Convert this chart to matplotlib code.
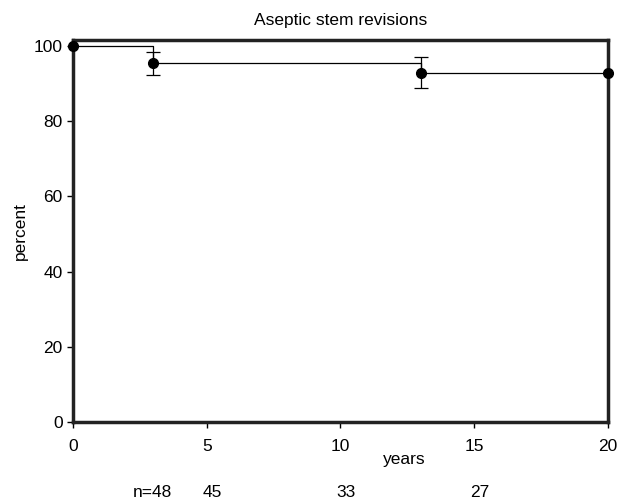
import matplotlib.pyplot as plt

plt.rcParams["font.family"] = ["Liberation Sans", "DejaVu Sans"]

years = [0, 3, 13, 20]
percent = [100, 95.6, 92.8, 92.8]
err_low = [0, 3.3, 4.0, 0]
err_high = [0, 2.7, 4.2, 0]
at_risk_x = [2.95, 5.2, 10.2, 15.2]
at_risk_labels = ["n=48", "45", "33", "27"]

fig = plt.figure(figsize=(6.19, 5.0), dpi=100)
ax = fig.add_axes([0.118, 0.156, 0.864, 0.764])

ax.step(years, percent, where="post", color="black", linewidth=0.9)
ax.errorbar(years[1:3], percent[1:3], yerr=[err_low[1:3], err_high[1:3]],
            fmt="none", ecolor="black", elinewidth=0.9, capsize=5, capthick=0.9)
ax.plot(years, percent, "o", color="black", markersize=7, clip_on=False, zorder=5)

ax.set_xlim(0, 20)
ax.set_ylim(0, 101.6)
ax.set_xticks([0, 5, 10, 15, 20])
ax.set_yticks([0, 20, 40, 60, 80, 100])
ax.tick_params(axis="both", labelsize=12.5, direction="out", length=4, width=1)
ax.tick_params(axis="x", pad=8)
for s in ax.spines.values():
    s.set_linewidth(2.5)
    s.set_color("#222222")

ax.set_title("Aseptic stem revisions", fontsize=12.5, pad=11)
ax.set_ylabel("percent", fontsize=12.5)
ax.yaxis.set_label_coords(-0.085, 0.5)
ax.text(12.4, -10.0, "years", fontsize=12.5, ha="center", va="center")
for xv, lab in zip(at_risk_x, at_risk_labels):
    ax.text(xv, -18.8, lab, fontsize=12.5, ha="center", va="center")

fig.savefig("out.png", dpi=100)
